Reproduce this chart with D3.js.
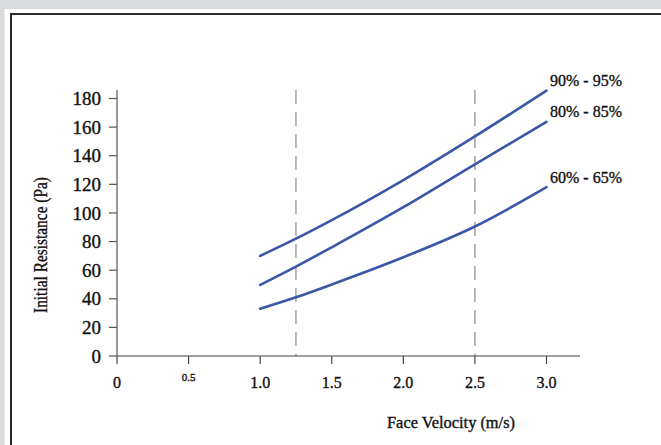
<!DOCTYPE html>
<html><head><meta charset="utf-8">
<script src="https://cdn.jsdelivr.net/npm/d3@7"></script>
<style>html,body{margin:0;padding:0;background:#d9dadc;overflow:hidden}</style>
</head><body>
<script>
const velocities = [1.0, 1.25, 1.5, 2.0, 2.5, 3.0];
const series90 = [70, 82, 95, 123, 153.5, 185.5];
const series80 = [49.7, 62.5, 76, 104, 134, 163.6];
const series60 = [33, 41, 50, 69, 90.5, 118];
const seriesNames = ["90% - 95%", "80% - 85%", "60% - 65%"];
const xTicks = [0, 0.5, 1.0, 1.5, 2.0, 2.5, 3.0];
const xTickLabels = ["0", "0.5", "1.0", "1.5", "2.0", "2.5", "3.0"];
const yTicks = [0, 20, 40, 60, 80, 100, 120, 140, 160, 180];
const refLines = [1.25, 2.5];

const W = 661, H = 445;
const svg = d3.select("body").append("svg").attr("width", W).attr("height", H).style("display","block");
svg.append("rect").attr("width", W).attr("height", H).attr("fill", "#d9dadc");
svg.append("rect").attr("x", 4.5).attr("y", 9).attr("width", W).attr("height", H).attr("fill", "#fff");
svg.append("path").attr("d", `M11,${H} L11,14 L${W},14`).attr("fill","none").attr("stroke","#2a2a2a").attr("stroke-width",2);

const x = d3.scaleLinear().domain([0, 3]).range([117, 546.5]);
const y = d3.scaleLinear().domain([0, 180]).range([356, 98.5]);
const font = "'Liberation Serif', 'Times New Roman', serif";
const heavy = sel => sel.attr("stroke", "#111").attr("stroke-width", 0.35).attr("fill", "#111");

// dashed reference lines
svg.selectAll(".ref").data(refLines).enter().append("line")
  .attr("x1", d => x(d)).attr("x2", d => x(d)).attr("y1", 90).attr("y2", 356)
  .attr("stroke", "#8a8a8a").attr("stroke-width", 1.2).attr("stroke-dasharray", "14,8");

// x axis
const gx = svg.append("g");
gx.append("line").attr("x1", x(0)).attr("x2", 580).attr("y1", y(0)).attr("y2", y(0)).attr("stroke", "#444").attr("stroke-width", 1.2);
gx.selectAll(".xt").data(xTicks).enter().append("line")
  .attr("x1", d => x(d)).attr("x2", d => x(d)).attr("y1", y(0)).attr("y2", y(0) + 8)
  .attr("stroke", "#444").attr("stroke-width", 1.2);
gx.selectAll(".xl").data(xTicks).enter().append("text")
  .attr("x", d => x(d)).attr("y", (d, i) => xTickLabels[i] === "0.5" ? 381 : 388)
  .attr("text-anchor", "middle").attr("font-family", font)
  .attr("font-size", (d, i) => xTickLabels[i] === "0.5" ? 11 : 16)
  .call(heavy).text((d, i) => xTickLabels[i]);

// y axis
const gy = svg.append("g");
gy.append("line").attr("x1", x(0)).attr("x2", x(0)).attr("y1", 90).attr("y2", y(0)).attr("stroke", "#777").attr("stroke-width", 1.5);
gy.selectAll(".yt").data(yTicks).enter().append("line")
  .attr("x1", x(0) - 8).attr("x2", x(0)).attr("y1", d => y(d)).attr("y2", d => y(d))
  .attr("stroke", "#555").attr("stroke-width", 1.2);
gy.selectAll(".yl").data(yTicks).enter().append("text")
  .attr("x", 101).attr("y", d => y(d)).attr("dy", "0.35em")
  .attr("text-anchor", "end").attr("font-family", font).attr("font-size", 19)
  .call(heavy).text(d => d);

// axis titles
svg.append("text").attr("x", 451).attr("y", 428).attr("text-anchor", "middle")
  .attr("font-family", font).attr("font-size", 16).call(heavy)
  .attr("textLength", 128).attr("lengthAdjust", "spacingAndGlyphs").text("Face Velocity (m/s)");
svg.append("text").attr("transform", "translate(47,245) rotate(-90)").attr("text-anchor", "middle")
  .attr("font-family", font).attr("font-size", 18).call(heavy)
  .attr("textLength", 136).attr("lengthAdjust", "spacingAndGlyphs").text("Initial Resistance (Pa)");

// curves
const allSeries = [series90, series80, series60];
const line = d3.line().x(d => x(d[0])).y(d => y(d[1])).curve(d3.curveMonotoneX);
allSeries.forEach((s, i) => {
  const pts = velocities.map((v, j) => [v, s[j]]);
  svg.append("path").attr("d", line(pts)).attr("fill", "none")
    .attr("stroke", "#3b57a8").attr("stroke-width", 2.6).attr("stroke-linecap", "round");
});

// labels
const labelY = [86, 117, 183];
seriesNames.forEach((n, i) => {
  svg.append("text").attr("x", 550).attr("y", labelY[i]).attr("font-family", font)
    .attr("font-size", 16).call(heavy)
    .attr("textLength", 72).attr("lengthAdjust", "spacingAndGlyphs").text(n);
});
</script>
</body></html>
